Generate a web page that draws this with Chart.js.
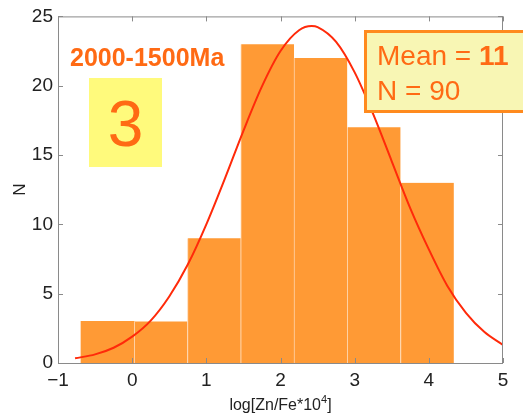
<!DOCTYPE html>
<html>
<head>
<meta charset="utf-8">
<script src="https://cdn.jsdelivr.net/npm/chart.js@4.4.1/dist/chart.umd.min.js"></script>
<style>
  body { margin: 0; background: #fff; overflow: hidden; }
  #wrap { width: 523px; height: 420px; position: relative; }
</style>
</head>
<body>
<div id="wrap"><canvas id="histChart"></canvas></div>
<script>
// histogram bins (log[Zn/Fe*10^4]) and counts
var binEdges = [-0.69, 0.028, 0.746, 1.464, 2.182, 2.90, 3.618, 4.337];
var counts = [3, 3, 9, 23, 22, 17, 13];

// fitted curve, points
var curveX = [-0.77, -0.5, -0.25, 0, 0.25, 0.5, 0.75, 1.0, 1.25, 1.5, 1.75, 2.0, 2.25, 2.42, 2.5, 2.75, 3.0, 3.25, 3.5, 3.75, 4.0, 4.25, 4.5, 4.75, 5.0];
var curveY = [0.34, 0.62, 1.1, 1.9, 3.06, 4.8, 7.1, 10.0, 13.3, 16.75, 19.95, 22.5, 24.0, 24.3, 24.23, 23.16, 20.96, 17.95, 14.55, 11.16, 8.2, 5.56, 3.62, 2.23, 1.3];

var xTicks = [-1, 0, 1, 2, 3, 4, 5];
var yTicks = [0, 5, 10, 15, 20, 25];

var periodLabel = '2000-1500Ma';
var groupNo = '3';
var meanValue = '11';
var sampleCount = '90';

var barData = [];
for (var i = 0; i < counts.length; i++) {
    barData.push({ x: (binEdges[i] + binEdges[i + 1]) / 2, y: counts[i] });
}
var curveData = [];
for (var j = 0; j < curveX.length; j++) {
    curveData.push({ x: curveX[j], y: curveY[j] });
}

var FONT = '"Liberation Sans", Arial, Helvetica, sans-serif';
var ORANGE_TEXT = '#FF6A14';

// box around the axes with inward ticks, axis titles and the text boxes
var decorPlugin = {
    id: 'decor',
    afterDraw: function (chart) {
        var ctx = chart.ctx;
        var a = chart.chartArea;
        var xs = chart.scales.x, ys = chart.scales.y;
        var tl = 5;
        ctx.save();
        ctx.strokeStyle = '#8a8a8a';
        ctx.lineWidth = 1;
        ctx.strokeRect(a.left + 0.5, a.top + 0.5, a.right - a.left - 1, a.bottom - a.top);
        ctx.beginPath();
        xTicks.forEach(function (v) {
            var px = Math.round(xs.getPixelForValue(v)) + 0.5;
            ctx.moveTo(px, a.top); ctx.lineTo(px, a.top + tl);
            ctx.moveTo(px, a.bottom); ctx.lineTo(px, a.bottom - tl);
        });
        yTicks.forEach(function (v) {
            var py = Math.round(ys.getPixelForValue(v)) + 0.5;
            ctx.moveTo(a.left, py); ctx.lineTo(a.left + tl, py);
            ctx.moveTo(a.right, py); ctx.lineTo(a.right - tl, py);
        });
        ctx.stroke();

        // x axis title with superscript
        ctx.fillStyle = '#222';
        ctx.textBaseline = 'alphabetic';
        ctx.font = '16px ' + FONT;
        var main = 'log[Zn/Fe*10';
        var sup = '4';
        var end = ']';
        var w1 = ctx.measureText(main).width;
        var w3 = ctx.measureText(end).width;
        ctx.font = '11px ' + FONT;
        var w2 = ctx.measureText(sup).width;
        var cx = (a.left + a.right) / 2;
        var x0 = cx - (w1 + w2 + w3) / 2;
        var base = 410;
        ctx.font = '16px ' + FONT;
        ctx.fillText(main, x0, base);
        ctx.font = '11px ' + FONT;
        ctx.fillText(sup, x0 + w1, base - 7);
        ctx.font = '16px ' + FONT;
        ctx.fillText(end, x0 + w1 + w2, base);

        // y axis title
        ctx.save();
        ctx.translate(20, (a.top + a.bottom) / 2);
        ctx.rotate(-Math.PI / 2);
        ctx.textAlign = 'center';
        ctx.textBaseline = 'middle';
        ctx.font = '17px ' + FONT;
        ctx.fillText('N', 0, 0);
        ctx.restore();

        // period label
        ctx.fillStyle = ORANGE_TEXT;
        ctx.font = 'bold 25px ' + FONT;
        ctx.textAlign = 'left';
        ctx.textBaseline = 'alphabetic';
        ctx.fillText(periodLabel, 70, 66);

        // group number box
        ctx.fillStyle = '#FFFA7C';
        ctx.fillRect(89, 78, 73, 89);
        ctx.fillStyle = ORANGE_TEXT;
        ctx.font = '64px ' + FONT;
        ctx.textAlign = 'center';
        ctx.fillText(groupNo, 125.5, 146);

        // mean / N box, runs off the right edge
        ctx.fillStyle = '#F8F6B4';
        ctx.fillRect(364, 30, 170, 83);
        ctx.strokeStyle = '#FF8A1E';
        ctx.lineWidth = 3;
        ctx.strokeRect(365.5, 31.5, 170, 80);
        ctx.fillStyle = ORANGE_TEXT;
        ctx.textAlign = 'left';
        ctx.font = '28px ' + FONT;
        var meanTxt = 'Mean = ';
        ctx.fillText(meanTxt, 377, 65);
        var mw = ctx.measureText(meanTxt).width;
        ctx.font = 'bold 28px ' + FONT;
        ctx.fillText(meanValue, 377 + mw, 65);
        ctx.font = '28px ' + FONT;
        ctx.fillText('N = ' + sampleCount, 377, 100);
        ctx.restore();
    }
};

var ctx = document.getElementById('histChart').getContext('2d');
var myChart = new Chart(ctx, {
    type: 'bar',
    data: {
        datasets: [{
            type: 'line',
            data: curveData,
            borderColor: '#FF2A0A',
            borderWidth: 2,
            pointRadius: 0,
            fill: false,
            cubicInterpolationMode: 'monotone',
            order: 0
        }, {
            type: 'bar',
            data: barData,
            backgroundColor: '#FF9A35',
            borderColor: '#FFD6AE',
            borderWidth: function (c) {
                return c.dataIndex === 0 ? 0 : { left: 1, right: 0, top: 0, bottom: 0 };
            },
            borderSkipped: false,
            barPercentage: 1,
            categoryPercentage: 1,
            order: 1
        }]
    },
    options: {
        responsive: true,
        maintainAspectRatio: false,
        animation: false,
        layout: { padding: { top: 15, right: 20, left: 0, bottom: 0 } },
        plugins: {
            legend: { display: false },
            tooltip: { enabled: false }
        },
        scales: {
            x: {
                type: 'linear',
                min: -1,
                max: 5,
                offset: false,
                grid: { display: false, drawTicks: false },
                border: { display: false },
                afterFit: function (s) { s.height = 57; },
                afterBuildTicks: function (s) {
                    s.ticks = xTicks.map(function (v) { return { value: v }; });
                },
                ticks: {
                    padding: 6,
                    color: '#222',
                    font: { family: FONT, size: 19 },
                    maxRotation: 0,
                    callback: function (v) { return v < 0 ? '\u2212' + Math.abs(v) : String(v); }
                }
            },
            y: {
                min: 0,
                max: 25,
                grid: { display: false, drawTicks: false },
                border: { display: false },
                afterFit: function (s) { s.width = 58; },
                afterBuildTicks: function (s) {
                    s.ticks = yTicks.map(function (v) { return { value: v }; });
                },
                ticks: {
                    padding: 5,
                    color: '#222',
                    font: { family: FONT, size: 19 }
                }
            }
        }
    },
    plugins: [decorPlugin]
});
</script>
</body>
</html>
